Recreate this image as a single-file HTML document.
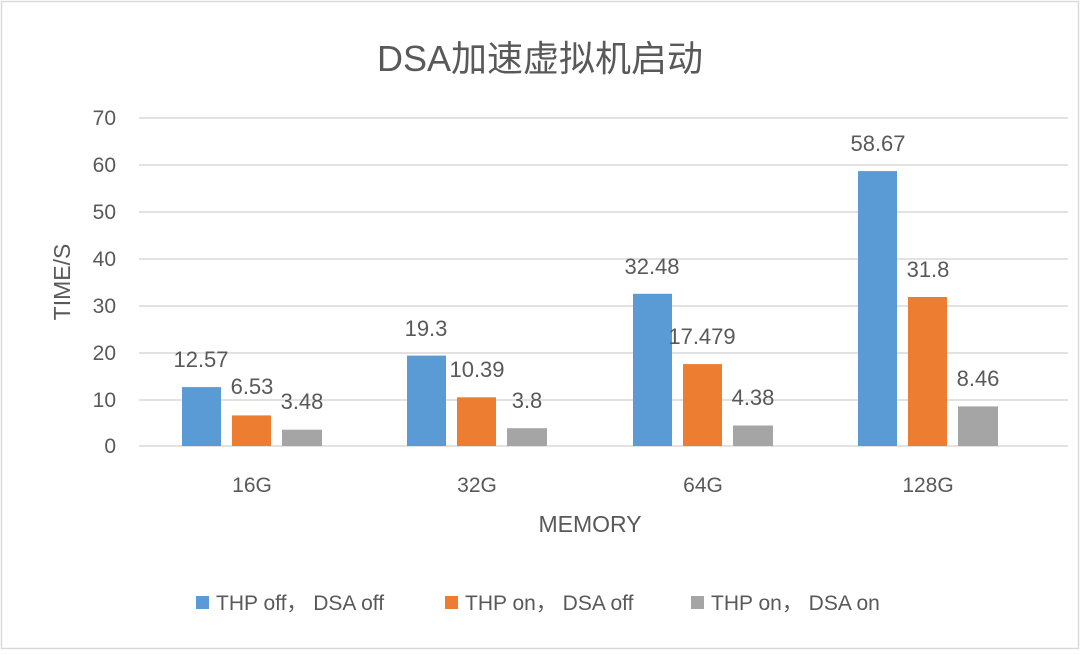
<!DOCTYPE html><html><head><style>body{margin:0;background:#fff}</style></head><body>
<svg width="1080" height="650" xmlns="http://www.w3.org/2000/svg" font-family="Liberation Sans, Noto Sans CJK SC, sans-serif" fill="#595959">
<rect x="1.5" y="1.5" width="1077" height="647" fill="#fff" stroke="#d9d9d9" stroke-width="1.5"/>
<text x="540" y="71" font-size="36" text-anchor="middle">DSA加速虚拟机启动</text>
<g stroke="#d9d9d9" stroke-width="1.5">
<line x1="139" x2="1068" y1="118" y2="118"/><line x1="139" x2="1068" y1="165" y2="165"/><line x1="139" x2="1068" y1="212" y2="212"/><line x1="139" x2="1068" y1="259" y2="259"/><line x1="139" x2="1068" y1="306" y2="306"/><line x1="139" x2="1068" y1="353" y2="353"/><line x1="139" x2="1068" y1="400" y2="400"/><line x1="139" x2="1068" y1="446" y2="446"/>
</g>
<g font-size="21" text-anchor="end">
<text x="116" y="125">70</text><text x="116" y="172">60</text><text x="116" y="219">50</text><text x="116" y="266">40</text><text x="116" y="313">30</text><text x="116" y="360">20</text><text x="116" y="407">10</text><text x="116" y="453">0</text>
</g>
<text transform="translate(70,282) rotate(-90)" font-size="23" text-anchor="middle">TIME/S</text>
<text x="590" y="532" font-size="23" text-anchor="middle">MEMORY</text>
<g font-size="21" text-anchor="middle">
<text x="252" y="492">16G</text><text x="477" y="492">32G</text><text x="703" y="492">64G</text><text x="928" y="492">128G</text>
</g>
<g>
<rect x="182" y="387.1" width="39" height="58.9" fill="#5b9bd5"/><rect x="232" y="415.4" width="39" height="30.6" fill="#ed7d31"/><rect x="282" y="429.7" width="40" height="16.3" fill="#a5a5a5"/>
<rect x="407" y="355.6" width="39" height="90.4" fill="#5b9bd5"/><rect x="457" y="397.3" width="39" height="48.7" fill="#ed7d31"/><rect x="507" y="428.2" width="40" height="17.8" fill="#a5a5a5"/>
<rect x="633" y="293.8" width="39" height="152.2" fill="#5b9bd5"/><rect x="683" y="364.1" width="39" height="81.9" fill="#ed7d31"/><rect x="733" y="425.5" width="40" height="20.5" fill="#a5a5a5"/>
<rect x="858" y="171.1" width="39" height="274.9" fill="#5b9bd5"/><rect x="908" y="297" width="39" height="149" fill="#ed7d31"/><rect x="958" y="406.4" width="40" height="39.6" fill="#a5a5a5"/>
</g>
<g font-size="22" text-anchor="middle">
<text x="201" y="367">12.57</text><text x="252" y="394">6.53</text><text x="302" y="409">3.48</text>
<text x="426" y="336">19.3</text><text x="477" y="377">10.39</text><text x="527" y="408">3.8</text>
<text x="652" y="274">32.48</text><text x="702" y="344">17.479</text><text x="753" y="405">4.38</text>
<text x="878" y="151">58.67</text><text x="928" y="277">31.8</text><text x="978" y="386">8.46</text>
</g>
<g font-size="21">
<rect x="196" y="596" width="13" height="13" fill="#5b9bd5"/><text x="216" y="610">THP off， DSA off</text>
<rect x="445" y="596" width="13" height="13" fill="#ed7d31"/><text x="465" y="610">THP on， DSA off</text>
<rect x="691" y="596" width="13" height="13" fill="#a5a5a5"/><text x="711" y="610">THP on， DSA on</text>
</g>
</svg></body></html>
